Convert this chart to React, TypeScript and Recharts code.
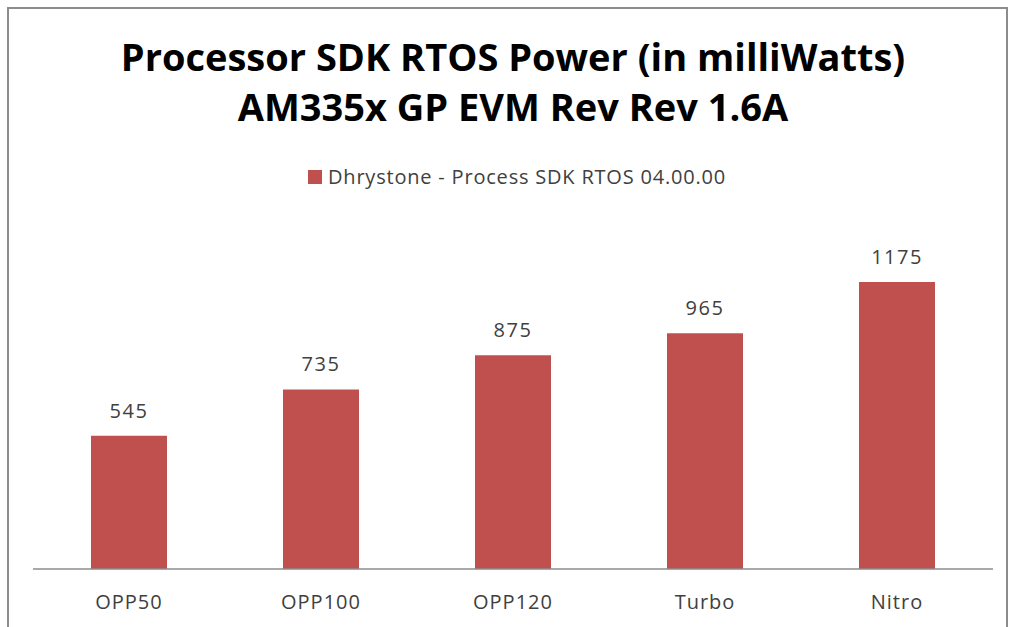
import { BarChart, Bar, XAxis, YAxis, LabelList } from "recharts"

const CATEGORIES = ["OPP50", "OPP100", "OPP120", "Turbo", "Nitro"]
const POWER_MW = [545, 735, 875, 965, 1175]
const SERIES_NAME = "Dhrystone - Process SDK RTOS 04.00.00"
const TITLE_LINES = ["Processor SDK RTOS Power (in milliWatts)", "AM335x GP EVM Rev Rev 1.6A"]

const data = CATEGORIES.map((name, i) => ({ name, value: POWER_MW[i] }))

const FONT = "'Open Sans', Lato, sans-serif"
const BAR_COLOR = "#C0504D"

export default function App() {
  return (
    <div
      style={{
        position: "absolute",
        left: 0,
        top: 0,
        width: 1010,
        height: 627,
        overflow: "hidden",
        background: "#fff",
        fontFamily: FONT,
      }}
    >
      <div
        style={{
          position: "absolute",
          left: 7,
          top: 7,
          width: 1001,
          height: 700,
          border: "2px solid #8c8c8c",
          boxSizing: "border-box",
        }}
      />
      {TITLE_LINES.map((t, i) => (
        <div
          key={t}
          style={{
            position: "absolute",
            left: 0,
            width: 1026,
            top: 34 + i * 50,
            textAlign: "center",
            fontSize: 38,
            fontWeight: "bold",
            color: "#000",
            lineHeight: "44px",
            whiteSpace: "nowrap",
          }}
        >
          {t}
        </div>
      ))}
      <div
        style={{
          position: "absolute",
          left: 308,
          top: 164,
          display: "flex",
          alignItems: "center",
          fontSize: 20,
          letterSpacing: 0.8,
          color: "#404040",
          lineHeight: "26px",
          whiteSpace: "nowrap",
        }}
      >
        <span style={{ width: 14, height: 14, background: BAR_COLOR, marginRight: 6, display: "inline-block" }} />
        {SERIES_NAME}
      </div>
      <BarChart
        width={1010}
        height={627}
        data={data}
        margin={{ top: 227, bottom: 0, left: 33, right: 17 }}
        style={{ position: "absolute", left: 0, top: 0 }}
      >
        <XAxis
          dataKey="name"
          tickLine={false}
          axisLine={{ stroke: "#8c8c8c", strokeWidth: 1.5 }}
          tick={{ fill: "#404040", fontSize: 20, fontFamily: FONT, letterSpacing: 1 }}
          tickMargin={20}
          height={58}
        />
        <YAxis hide domain={[0, 1400]} />
        <Bar dataKey="value" fill={BAR_COLOR} barSize={76} isAnimationActive={false}>
          <LabelList
            dataKey="value"
            position="top"
            offset={18}
            fill="#404040"
            fontSize={20}
            fontFamily={FONT}
            letterSpacing={1.5}
          />
        </Bar>
      </BarChart>
    </div>
  )
}
